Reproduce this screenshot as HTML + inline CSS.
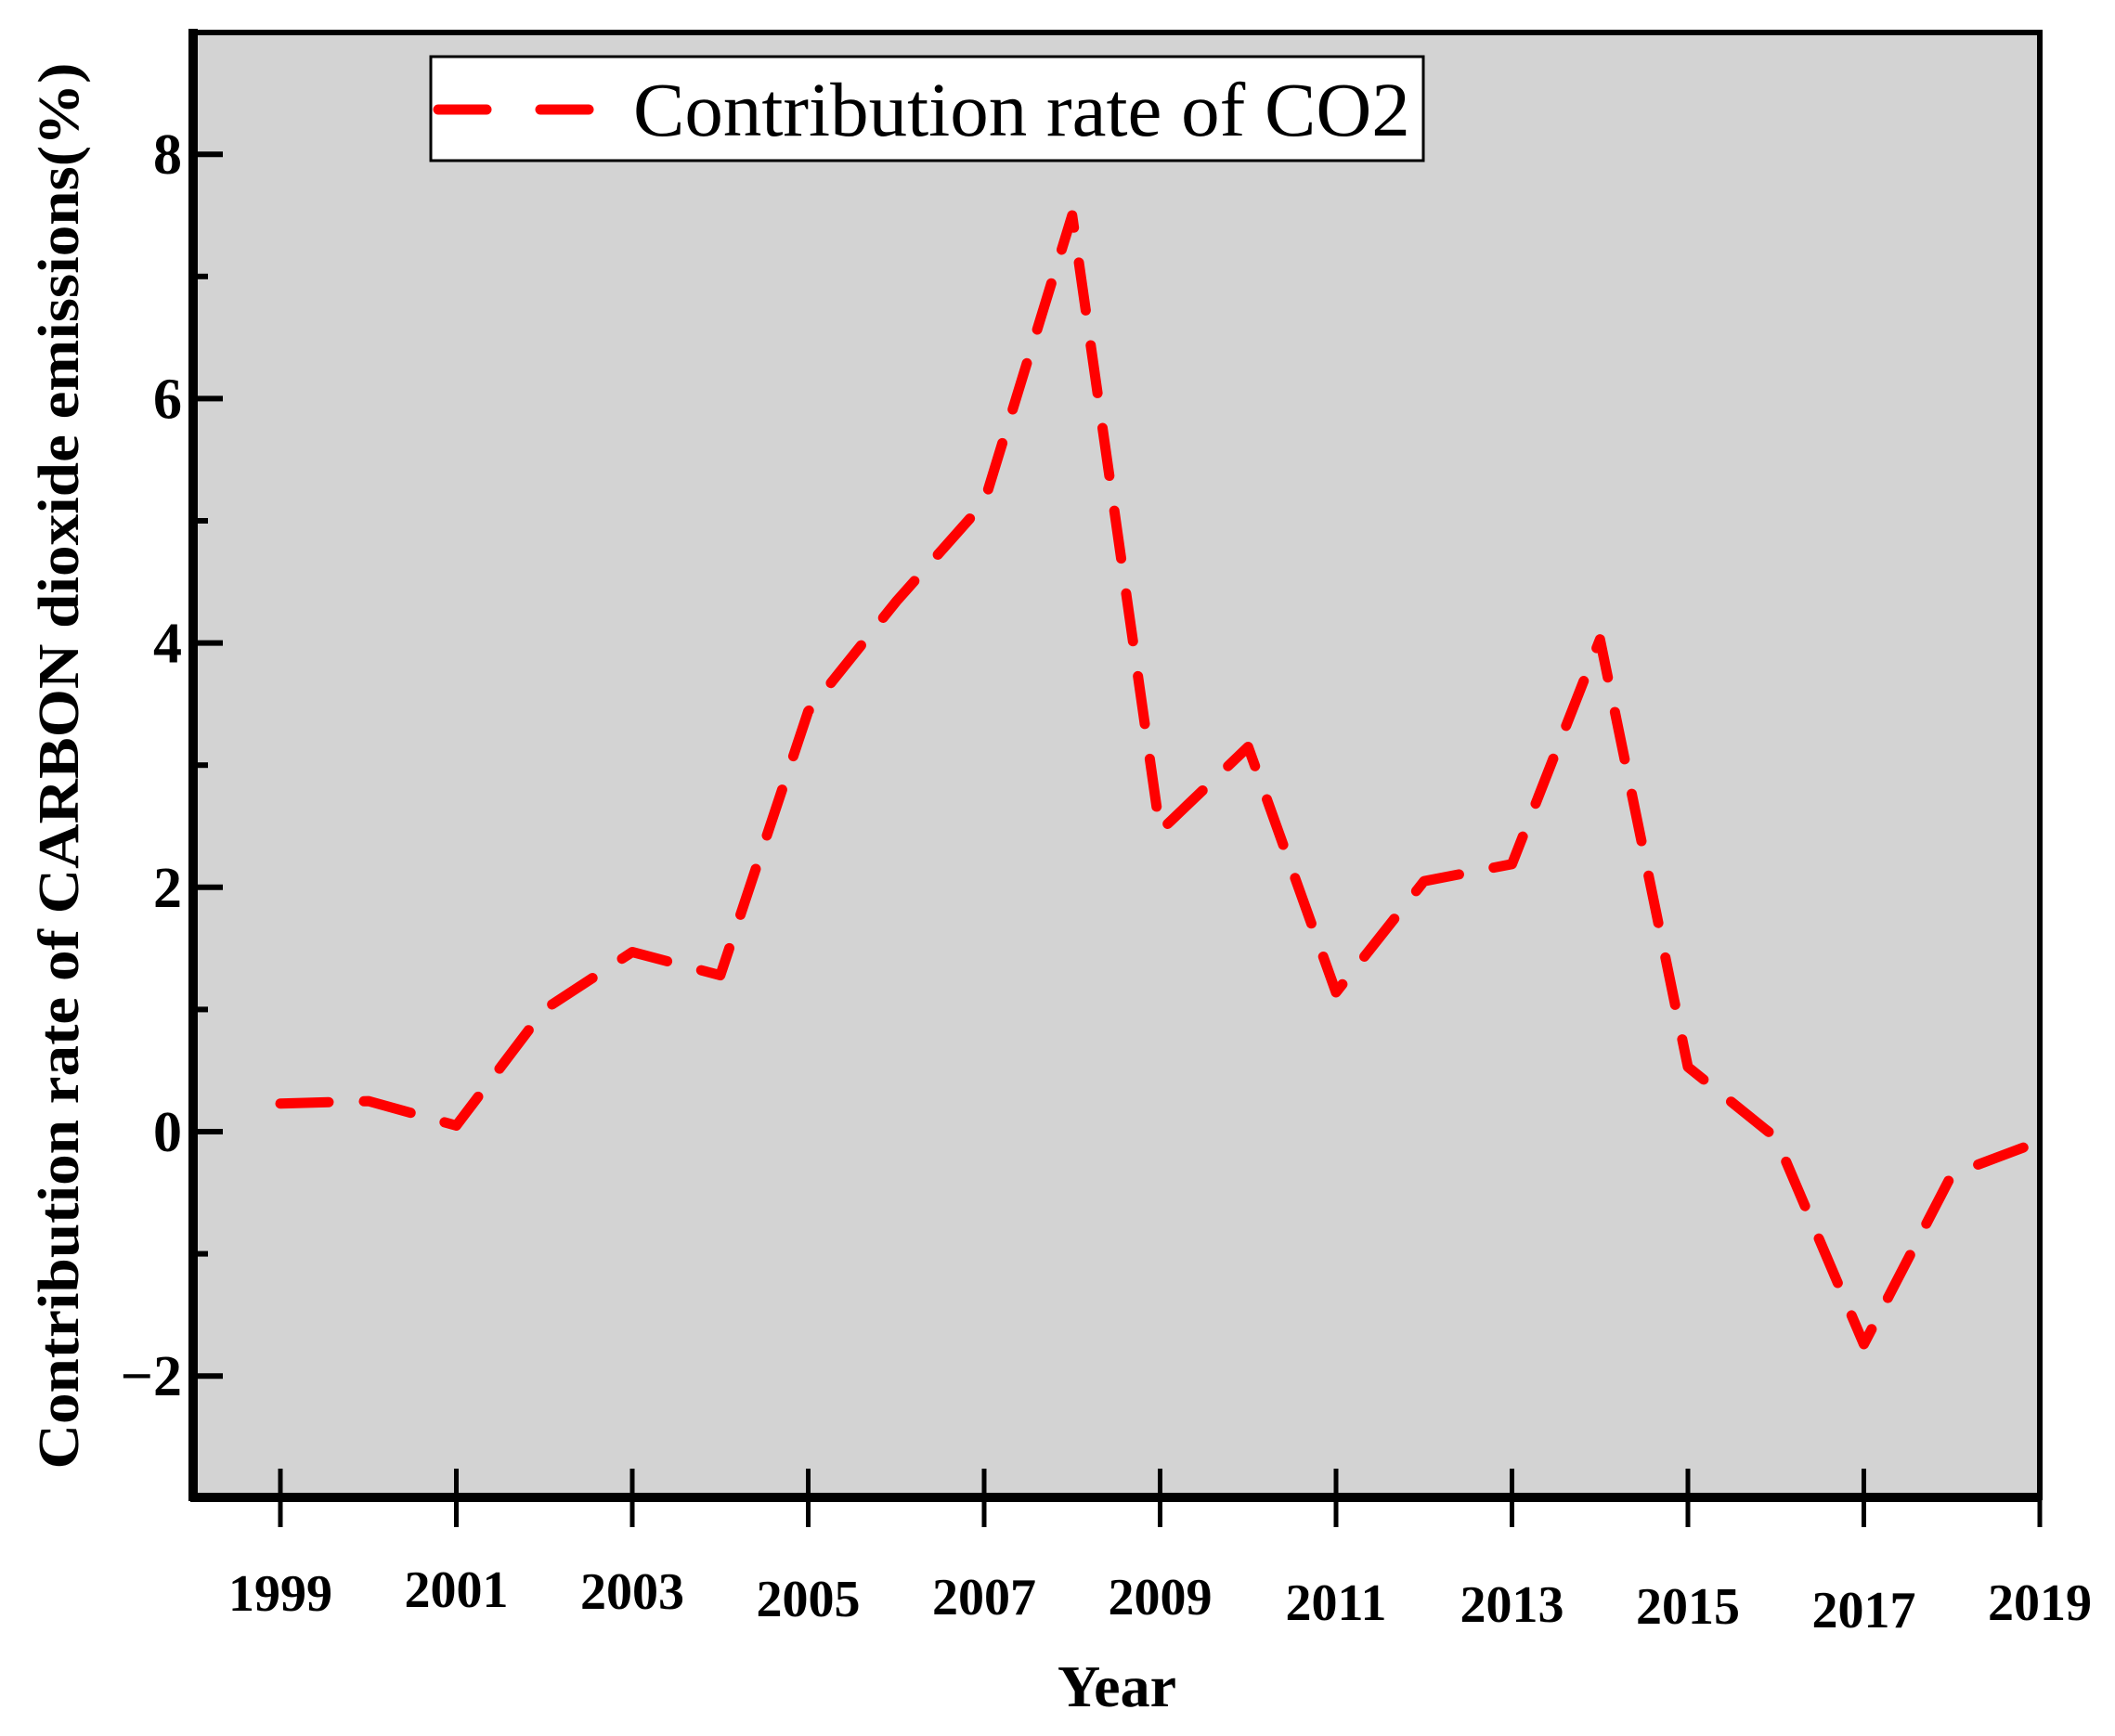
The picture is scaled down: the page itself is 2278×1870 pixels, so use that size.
<!DOCTYPE html>
<html><head><meta charset="utf-8"><style>
html,body{margin:0;padding:0;background:#fff;}
svg{display:block;}
text{font-family:"Liberation Serif","DejaVu Serif",serif;}
</style></head><body>
<svg id="chart" width="2278" height="1870" viewBox="0 0 2278 1870" xmlns="http://www.w3.org/2000/svg">
<rect x="208" y="35" width="1989" height="1578" fill="#d3d3d3"/>
<g id="axes"></g>
<path id="series" fill="none" stroke="#ff0000" stroke-width="11" stroke-linecap="round" stroke-linejoin="round" stroke-dasharray="52 38"/>
<rect x="208" y="35" width="1989" height="1578" fill="none" stroke="#000" stroke-width="6"/>
<line x1="205" y1="1613" x2="2199" y2="1613" stroke="#000" stroke-width="10"/>
<line x1="208" y1="31" x2="208" y2="1617" stroke="#000" stroke-width="10"/>
<g>
<rect x="464" y="61" width="1069" height="112" fill="#fff" stroke="#000" stroke-width="3"/>
<line x1="472" y1="118" x2="640" y2="118" stroke="#ff0000" stroke-width="11" stroke-linecap="round" stroke-dasharray="52 58"/>
<text x="682" y="146" font-size="83" fill="#000">Contribution rate of CO2</text>
</g>
<text x="1203" y="1838" font-size="64" font-weight="bold" text-anchor="middle">Year</text>
<text transform="translate(84,825) rotate(-90)" font-size="62" font-weight="bold" text-anchor="middle" textLength="1515" lengthAdjust="spacingAndGlyphs">Contribution rate of CARBON dioxide emissions(%)</text>
</svg>
<script>
const years = [1999,2000,2001,2002,2003,2004,2005,2006,2007,2008,2009,2010,2011,2012,2013,2014,2015,2016,2017,2018,2019];
const values = [0.23,0.25,0.05,1.0,1.47,1.28,3.44,4.34,5.15,7.5,2.46,3.15,1.14,2.05,2.19,4.03,0.53,-0.05,-1.74,-0.35,-0.08];
const xTickLabels = ["1999","2001","2003","2005","2007","2009","2011","2013","2015","2017","2019"];
const yTickLabels = ["-2","0","2","4","6","8"];
const yMinorTicks = [-3,-1,1,3,5,7];

const X0=302, X1=2197, Y0=1219, YU=131.6;
function xs(v){return X0+(v-1999)*(X1-X0)/20;}
function ys(v){return Y0-v*YU;}
const NS="http://www.w3.org/2000/svg";
const axes=document.getElementById('axes');
function mk(tag,attrs,parent){const e=document.createElementNS(NS,tag);for(const k in attrs)e.setAttribute(k,attrs[k]);(parent||axes).appendChild(e);return e;}

const stagger=[0,-4,-2,6,4,4,10,12,14,18,10];
xTickLabels.forEach((lab,i)=>{
  const x=xs(+lab);
  const t=mk('line',{x1:x,y1:1582,x2:x,y2:1645,stroke:'#000','stroke-width':5});
  
  
  const tx=mk('text',{x:x,y:1735+stagger[i],'font-size':56,'font-weight':'bold','text-anchor':'middle'});
  
  
  tx.textContent=lab;
});
yTickLabels.forEach(lab=>{
  const y=ys(+lab);
  const t=mk('line',{x1:208,y1:y,x2:240,y2:y,stroke:'#000','stroke-width':6});
  
  
  const tx=mk('text',{x:196,y:y+21,'font-size':62,'font-weight':'bold','text-anchor':'end'});
  
  
  tx.textContent=lab.replace('-','\u2212');
});
yMinorTicks.forEach(v=>{
  const y=ys(v);
  const t=mk('line',{x1:208,y1:y,x2:224,y2:y,stroke:'#000','stroke-width':6});
  
  
});
document.getElementById('series').setAttribute('d',years.map((yr,i)=>(i?'L':'M')+xs(yr).toFixed(1)+' '+ys(values[i]).toFixed(1)).join(' '));
</script>
</body></html>
